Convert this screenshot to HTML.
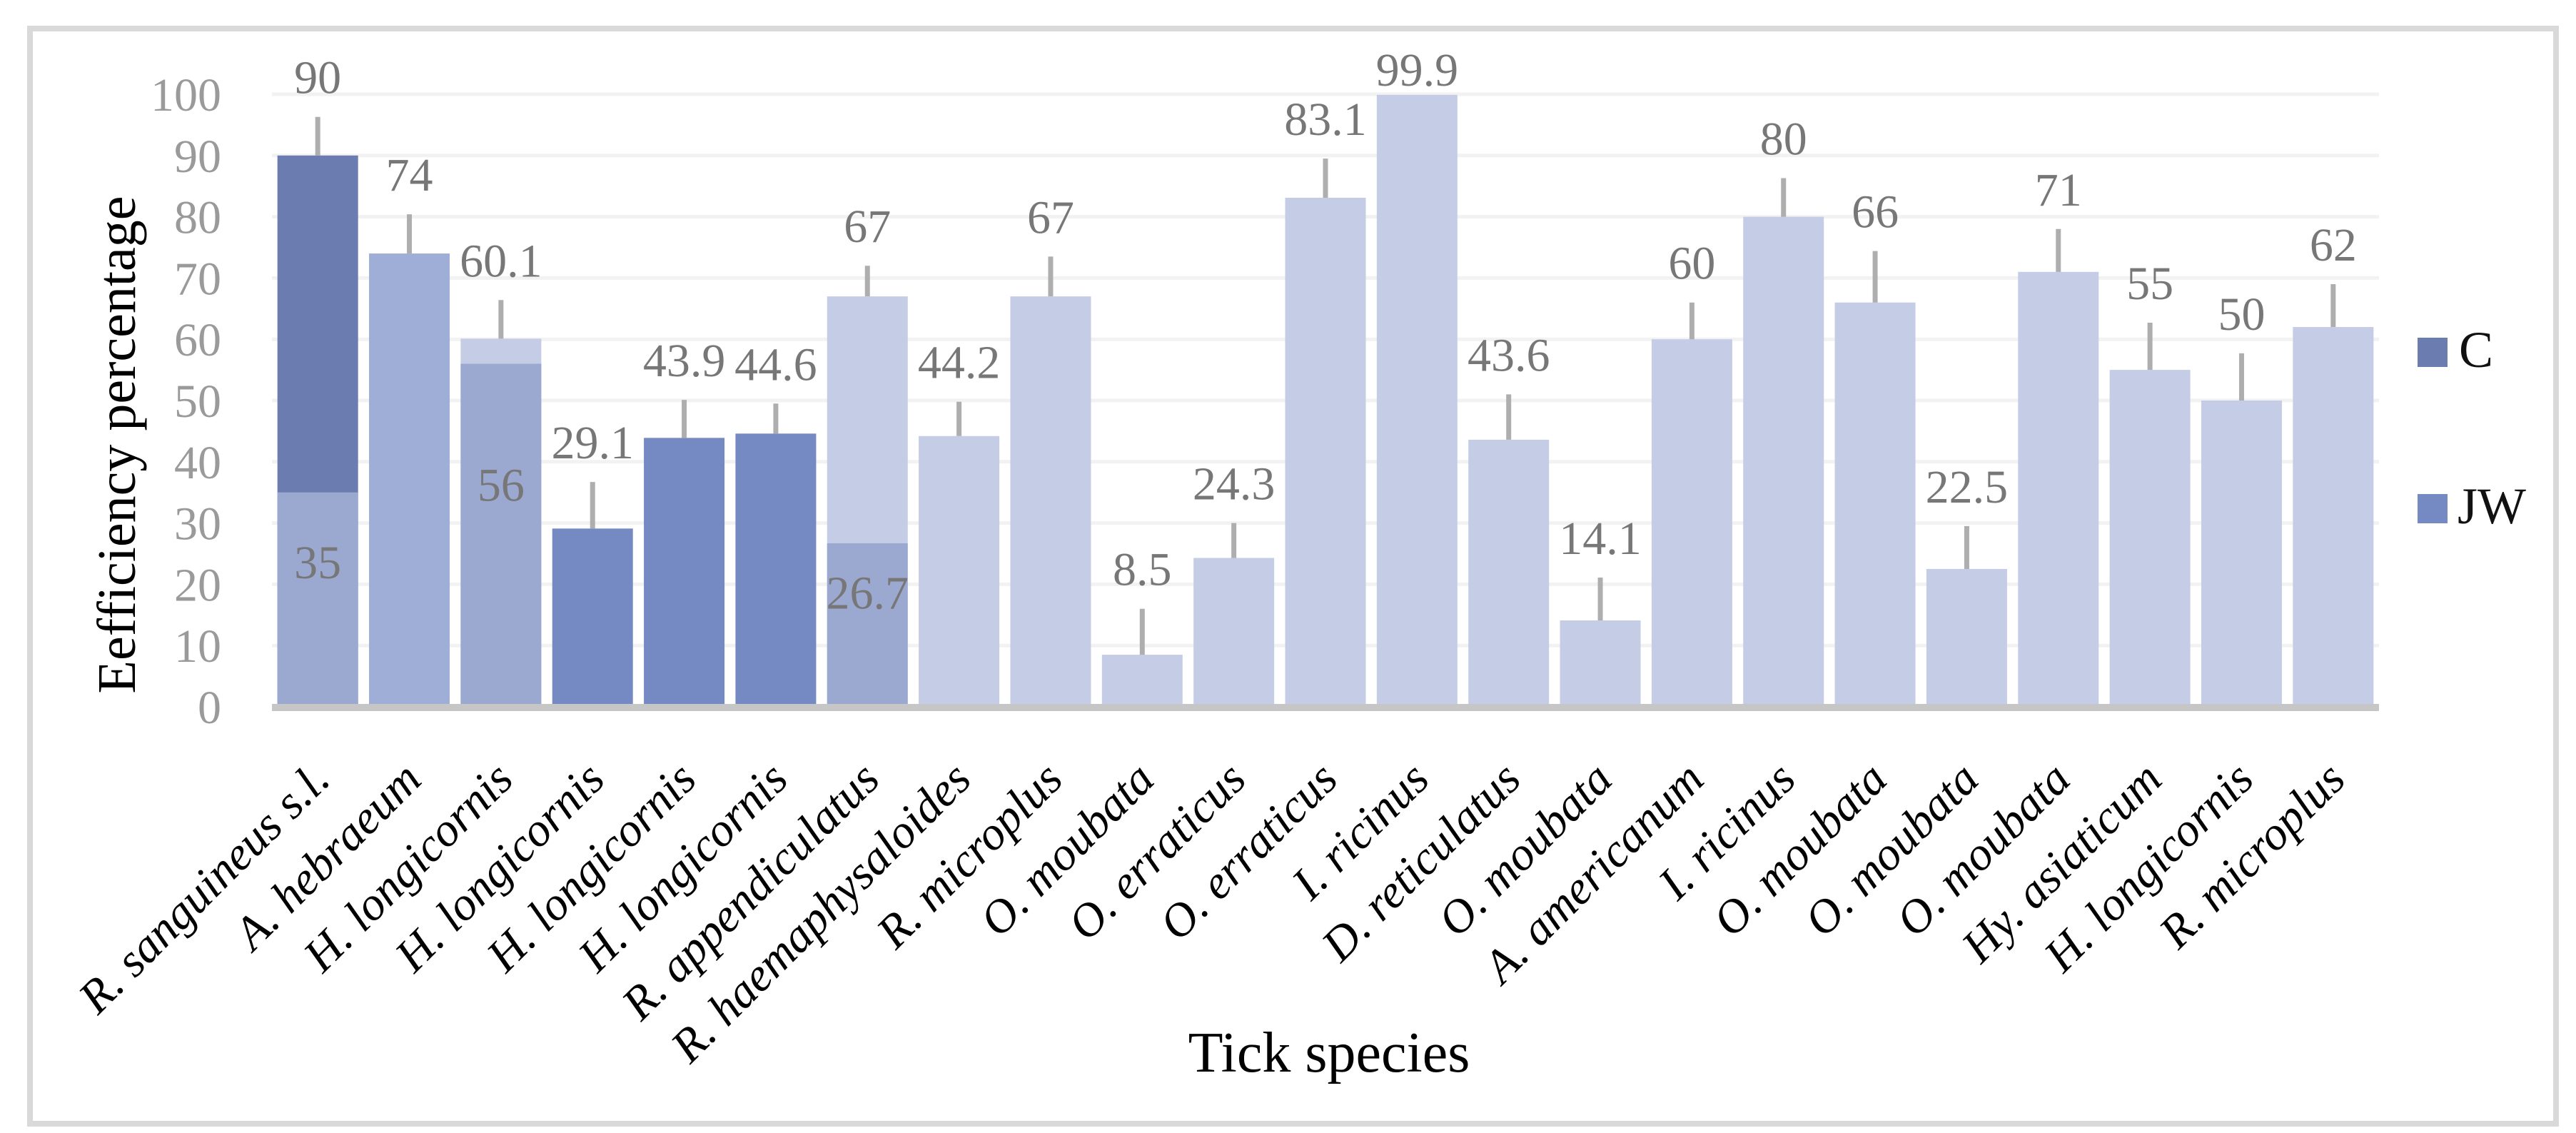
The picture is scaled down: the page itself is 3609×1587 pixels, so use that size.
<!DOCTYPE html>
<html><head><meta charset="utf-8">
<style>
html,body{margin:0;padding:0;background:#fff;}
svg{display:block;}
text{font-family:"Liberation Serif",serif;}
</style></head>
<body>
<svg id="chart" width="3609" height="1587" viewBox="0 0 3609 1587">
  <rect x="42" y="40" width="3539" height="1534" fill="#fff" stroke="#d9d9d9" stroke-width="8"/>
  <g id="grid"></g>
  <g id="bars"></g>
  <g id="errs"></g>
  <line x1="381" x2="3333" y1="991" y2="991" stroke="#c6c6c6" stroke-width="10"/>
  <g id="yticks"></g>
  <g id="labels"></g>
  <g id="xticks"></g>
  <text x="164" y="623" transform="rotate(-90 164 623)" text-anchor="middle" dominant-baseline="central" font-size="76" fill="#000">Eefficiency percentage</text>
  <text x="1862" y="1501" text-anchor="middle" font-size="80" fill="#000">Tick species</text>
  <g>
    <rect x="3387" y="473" width="42" height="41" fill="#6b7db0"/>
    <text x="3445" y="514" font-size="72" fill="#111">C</text>
    <rect x="3387" y="692" width="42" height="41" fill="#7589c3"/>
    <text x="3443" y="733" font-size="72" fill="#111">JW</text>
  </g>
</svg>
<script>
const categories = ["R. sanguineus s.l.","A. hebraeum","H. longicornis","H. longicornis","H. longicornis","H. longicornis","R. appendiculatus","R. haemaphysaloides","R. microplus","O. moubata","O. erraticus","O. erraticus","I. ricinus","D. reticulatus","O. moubata","A. americanum","I. ricinus","O. moubata","O. moubata","O. moubata","Hy. asiaticum","H. longicornis","R. microplus"];
const values = [90,74,60.1,29.1,43.9,44.6,67,44.2,67,8.5,24.3,83.1,99.9,43.6,14.1,60,80,66,22.5,71,55,50,62];
const innerValues = [35,null,56,null,null,null,26.7,null,null,null,null,null,null,null,null,null,null,null,null,null,null,null,null];
const errors = [6.3,6.4,6.3,7.6,6.2,4.9,5,5.6,6.5,7.5,5.7,6.4,0,7.4,7,6,6.3,8.4,7,7,7.7,7.7,7];
const topColorKeys = ["c","mid","light","jw","jw","jw","light","light","light","light","light","light","light","light","light","light","light","light","light","light","light","light","light"];
const yTicks = [0,10,20,30,40,50,60,70,80,90,100];

const palette = {c:"#6b7db0", jw:"#7589c3", mid:"#9eaed6", light:"#c5cde6", inner:"#9ba9d1"};
const NS = "http://www.w3.org/2000/svg";
const plotL = 381, plotR = 3333, y0 = 990, y100 = 132;
const step = (plotR - plotL) / categories.length;
const barW = 113;
function yScale(v){ return y0 - (y0 - y100) * v / 100; }
function xCenter(i){ return plotL + step * (i + 0.5); }
function mk(tag, attrs, parent){ const e = document.createElementNS(NS, tag); for (const k in attrs) e.setAttribute(k, attrs[k]); parent.appendChild(e); return e; }

const grid = document.getElementById('grid');
const yt = document.getElementById('yticks');
yTicks.forEach(t => {
  if (t > 0) {
    const l = mk('line', {x1:plotL, x2:plotR, y1:yScale(t), y2:yScale(t), stroke:'#f2f2f2', 'stroke-width':5}, grid);
    
    
  }
  const tx = mk('text', {x:310, y:yScale(t)+23, 'text-anchor':'end', 'font-size':66, fill:'#9a9a9a'}, yt);
  tx.textContent = t;
  
  
});

const bars = document.getElementById('bars');
const errs = document.getElementById('errs');
const labels = document.getElementById('labels');
const xt = document.getElementById('xticks');
categories.forEach((cat, i) => {
  const cx = xCenter(i), x = cx - barW/2;
  const v = values[i], iv = innerValues[i];
  const top = mk('rect', {x:x, y:yScale(v), width:barW, height:y0 - yScale(v), fill:palette[topColorKeys[i]]}, bars);
  
  
  if (iv !== null) {
    const inner = mk('rect', {x:x, y:yScale(iv), width:barW, height:y0 - yScale(iv), fill:palette.inner}, bars);
    
    
    const il = mk('text', {x:cx, y:yScale(iv*0.6), 'text-anchor':'middle', 'font-size':66, fill:'#777'}, labels);
    il.textContent = iv;
    
    
  }
  const e = errors[i];
  if (e > 0) {
    const el = mk('line', {x1:cx, x2:cx, y1:yScale(v), y2:yScale(Math.min(v+e, 100.5)), stroke:'#aeaeae', 'stroke-width':7}, errs);
    
    
  }
  const lab = mk('text', {x:cx, y:yScale(v+e) - (e>0?33:13), 'text-anchor':'middle', 'font-size':66, fill:'#777'}, labels);
  lab.textContent = v;
  
  
  const ax = cx + 20, ay = y0 + 105;
  const xl = mk('text', {x:ax, y:ay, 'text-anchor':'end', 'font-size':66, 'font-style':'italic', fill:'#000', transform:'rotate(-45 '+ax+' '+ay+')'}, xt);
  xl.textContent = cat;
  
  
});
</script>
</body></html>
